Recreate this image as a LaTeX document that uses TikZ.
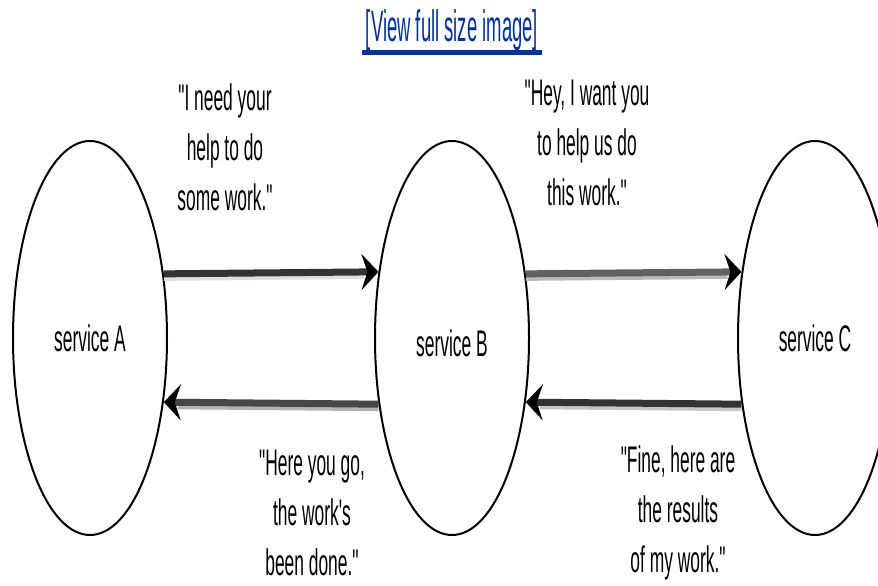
\documentclass[tikz,border=0pt]{standalone}
\usepackage{fontspec}
\usetikzlibrary{shapes.geometric,arrows.meta}
\newfontfamily\narrowfont[FakeStretch=0.47]{Liberation Sans}
\newfontfamily\linkfont[FakeStretch=0.42]{Liberation Sans}
\definecolor{linkblue}{HTML}{003399}
\tikzset{
  svc/.style={draw=black, line width=2pt, ellipse, minimum width=154pt, minimum height=394pt, inner sep=0pt},
  svclabel/.style={inner sep=0pt, font=\narrowfont\fontsize{37}{40}\selectfont},
  quote/.style={align=center, inner sep=0pt, font=\narrowfont\fontsize{37}{50}\selectfont},
  arrowmain/.style={line width=7pt, -{Stealth[length=17pt,width=36pt,inset=6pt,black]}},
  arrowlight/.style={line width=4pt, transform canvas={yshift=-5pt}, shorten >=14pt},
}
\begin{document}
\begin{tikzpicture}[x=1pt,y=-1pt]
\path[use as bounding box] (0,0) rectangle (878,586);
\clip (0,0) rectangle (878,586);
\fill[white] (0,0) rectangle (878,586);
% link
\node[inner sep=0pt, text=linkblue, font=\linkfont\fontsize{44}{44}\selectfont] (link) at (452,30) {[View full size image]};
\coordinate (ul1) at (362,53);
\coordinate (ul2) at (542,53);
\draw[linkblue, line width=5pt] (ul1) -- (ul2);
% services
\node[svc] (A) at (90,338) {};
\node[svc] (B) at (452,338) {};
\node[svc] (C) at (815,338) {};
\node[svclabel] (la) at (90,338) {service A};
\node[svclabel] (lb) at (452,343) {service B};
\node[svclabel] (lc) at (815,338) {service C};
% arrows
\draw[arrowlight, color=gray!25] (A.41.8) -- (B.138.2);
\draw[arrowmain, color=black!80] (A.41.8) -- (B.138.2);
\draw[arrowlight, color=gray!55] (B.41.8) -- (C.138.2);
\draw[arrowmain, color=black!62] (B.41.8) -- (C.138.2);
\draw[arrowlight, color=gray!60] (B.-138.2) -- (A.-41.8);
\draw[arrowmain, color=black!72] (B.-138.2) -- (A.-41.8);
\draw[arrowlight, color=gray!45] (C.-138.2) -- (B.-41.8);
\draw[arrowmain, color=black!80] (C.-138.2) -- (B.-41.8);
% quotes
\node[quote] (q1) at (225,147) {"I need your\\help to do\\some work."};
\node[quote] (q2) at (587,143) {"Hey, I want you\\to help us do\\this work."};
\node[quote] (q3) at (312,513) {"Here you go,\\the work's\\been done."};
\node[quote] (q4) at (678,513) {"Fine, here are\\the results\\of my work."};
\end{tikzpicture}
\end{document}
